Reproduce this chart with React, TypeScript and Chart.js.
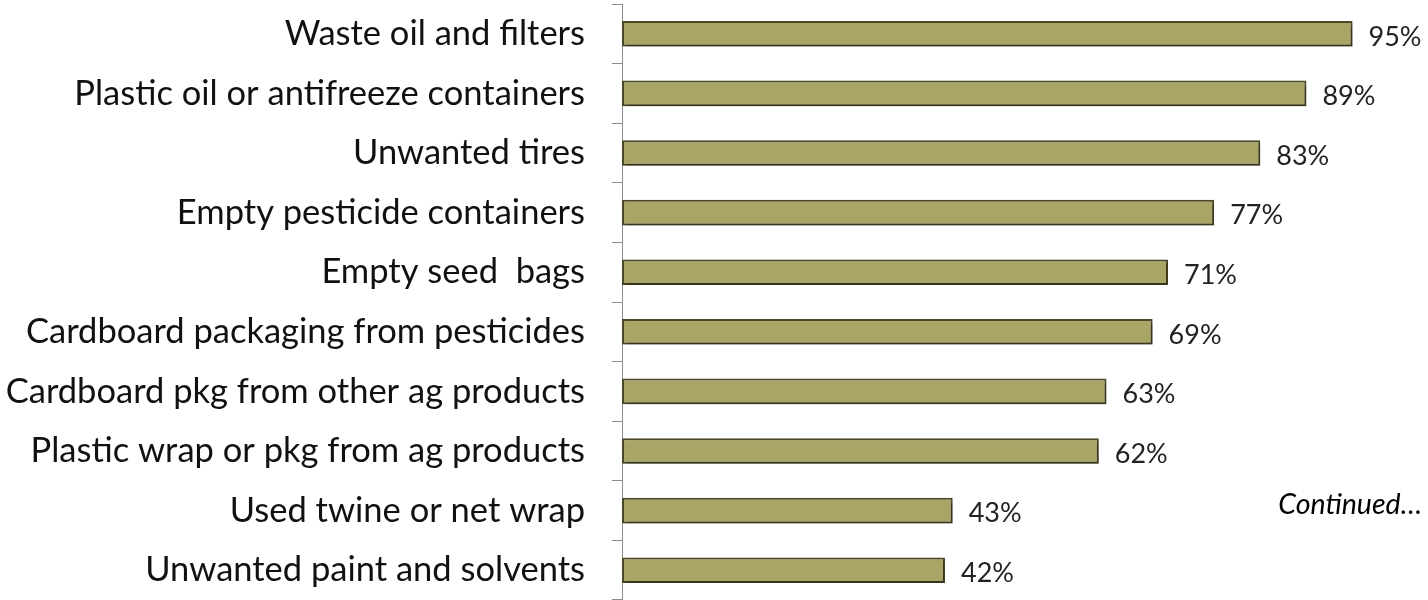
import React, { useEffect, useRef } from "react";
import { Chart, registerables } from "chart.js";

Chart.register(...registerables);

const categories = [
  "Waste oil and filters",
  "Plastic oil or antifreeze containers",
  "Unwanted tires",
  "Empty pesticide containers",
  "Empty seed  bags",
  "Cardboard packaging from pesticides",
  "Cardboard pkg from other ag products",
  "Plastic wrap or pkg from ag products",
  "Used twine or net wrap",
  "Unwanted paint and solvents",
];
const values = [95, 89, 83, 77, 71, 69, 63, 62, 43, 42];
const noteText = "Continued…";

const FONT = "Lato, 'Open Sans', sans-serif";

export default function App() {
  const ref = useRef<HTMLCanvasElement | null>(null);

  useEffect(() => {
    document.body.style.margin = "0";
    const canvas = ref.current;
    if (!canvas) return;

    const shadowPlugin = {
      id: "barShadow",
      beforeDatasetsDraw(chart: any) {
        const ctx = chart.ctx;
        ctx.save();
        ctx.shadowColor = "rgba(0,0,0,0.35)";
        ctx.shadowBlur = 4;
        ctx.shadowOffsetX = 2;
        ctx.shadowOffsetY = 3;
      },
      afterDatasetsDraw(chart: any) {
        chart.ctx.restore();
      },
    };

    const labelPlugin = {
      id: "valueLabels",
      afterDraw(chart: any) {
        const ctx = chart.ctx;
        const meta = chart.getDatasetMeta(0);
        ctx.save();
        ctx.font = `27px ${FONT}`;
        ctx.fillStyle = "#222222";
        ctx.textAlign = "left";
        ctx.textBaseline = "middle";
        meta.data.forEach((bar: any, i: number) => {
          ctx.fillText(values[i] + "%", bar.x + 16, bar.y + 3);
        });
        // note text
        ctx.font = `italic 28.5px ${FONT}`;
        ctx.textAlign = "right";
        ctx.fillStyle = "#000000";
        const y8 = chart.scales.y.getPixelForValue(8);
        ctx.fillText(noteText, chart.width - 6, y8 - 6);
        ctx.restore();
      },
    };

    const chart = new Chart(canvas, {
      type: "bar",
      data: {
        labels: categories,
        datasets: [
          {
            data: values,
            backgroundColor: "#A8A566",
            borderColor: "#4E4A28",
            borderWidth: 2,
            borderSkipped: false,
            barPercentage: 0.43,
            categoryPercentage: 1,
          },
        ],
      },
      options: {
        indexAxis: "y",
        animation: false,
        responsive: false,
        maintainAspectRatio: false,
        layout: { padding: { top: 4, right: 37, bottom: 0, left: 0 } },
        plugins: {
          legend: { display: false },
          tooltip: { enabled: false },
        },
        scales: {
          x: {
            display: false,
            min: 0,
            max: 100,
          },
          y: {
            afterFit(scale: any) {
              scale.width = 622;
              scale.paddingTop = 0;
              scale.paddingBottom = 0;
            },
            grid: {
              offset: true,
              drawOnChartArea: false,
              drawTicks: true,
              tickLength: 10,
              color: "#8c8c8c",
              lineWidth: 1,
            },
            border: { display: true, color: "#8c8c8c", width: 1 },
            ticks: {
              color: "#111111",
              font: { family: FONT, size: 34.5 },
              padding: 27,
              autoSkip: false,
            },
          },
        },
      },
      plugins: [shadowPlugin, labelPlugin],
    });

    return () => chart.destroy();
  }, []);

  return (
    <div style={{ width: 1428, height: 600, background: "#ffffff" }}>
      <canvas ref={ref} width={1428} height={600} />
    </div>
  );
}
